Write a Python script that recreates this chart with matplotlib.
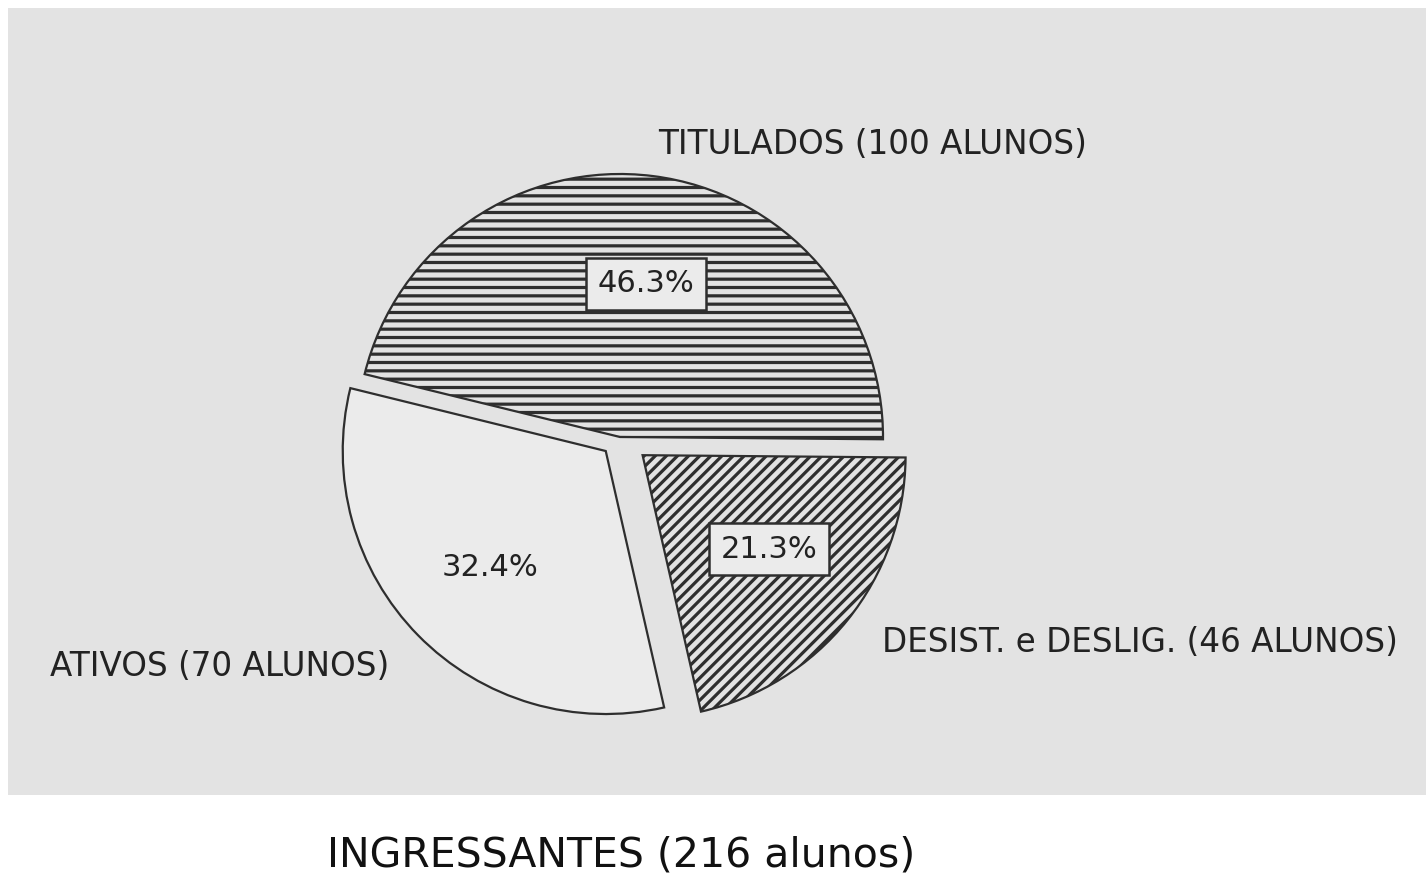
import matplotlib
matplotlib.use("Agg")
import matplotlib.pyplot as plt
from matplotlib.patches import Rectangle

categories = ["TITULADOS", "ATIVOS", "DESIST. e DESLIG."]
values = [100, 70, 46]
title = "INGRESSANTES (216 alunos)"

total = sum(values)
plt.rcParams['hatch.linewidth'] = 2.3

W, H = 1426, 875
fig = plt.figure(figsize=(W / 100, H / 100), dpi=100)
fig.patch.set_facecolor('white')
ax = fig.add_axes([0, 0, 1, 1])

bg = '#e3e3e3'
edge = '#2e2e2e'
ax.add_patch(Rectangle((8, H - 795), W - 8, 787, facecolor=bg, edgecolor='none', zorder=0))

R = 263
center = (620, H - 437)
wedges, _ = ax.pie(values, startangle=-0.5, counterclock=True,
                   explode=[0.0, 20, 29], radius=R, center=center,
                   colors=[bg, '#ebebeb', bg],
                   wedgeprops=dict(edgecolor=edge, linewidth=1.6), frame=True)
ax.set_xlim(0, W)
ax.set_ylim(0, H)
ax.set_aspect('equal')
ax.axis('off')
wedges[0].set_hatch('--')
wedges[2].set_hatch('///')
for w in wedges:
    w.set_zorder(2)

pcts = ["%.1f%%" % (v * 100 / total) for v in values]
font = 'DejaVu Sans'
box = dict(boxstyle='square,pad=0.38', facecolor='#ebebeb', edgecolor=edge, linewidth=1.8)

# percentage labels
pct_pos = [(646, 284), (490, 567), (769, 549)]
pct_box = [True, False, True]
for p, (x, y), b in zip(pcts, pct_pos, pct_box):
    ax.text(x, H - y, p, ha='center', va='center', fontsize=22, color='#222222',
            family=font, bbox=box if b else None, zorder=5)

# category labels
cat_pos = [(873, 145), (220, 667), (1140, 643)]
for c, v, (x, y) in zip(categories, values, cat_pos):
    ax.text(x, H - y, "%s (%d ALUNOS)" % (c, v), ha='center', va='center', fontsize=23.5,
            color='#222222', family=font, zorder=5)

ax.text(621, H - 855, title, ha='center', va='center', fontsize=29.5, color='#111111',
        family=font, zorder=5)

fig.savefig('out.png', dpi=100, facecolor='white')
